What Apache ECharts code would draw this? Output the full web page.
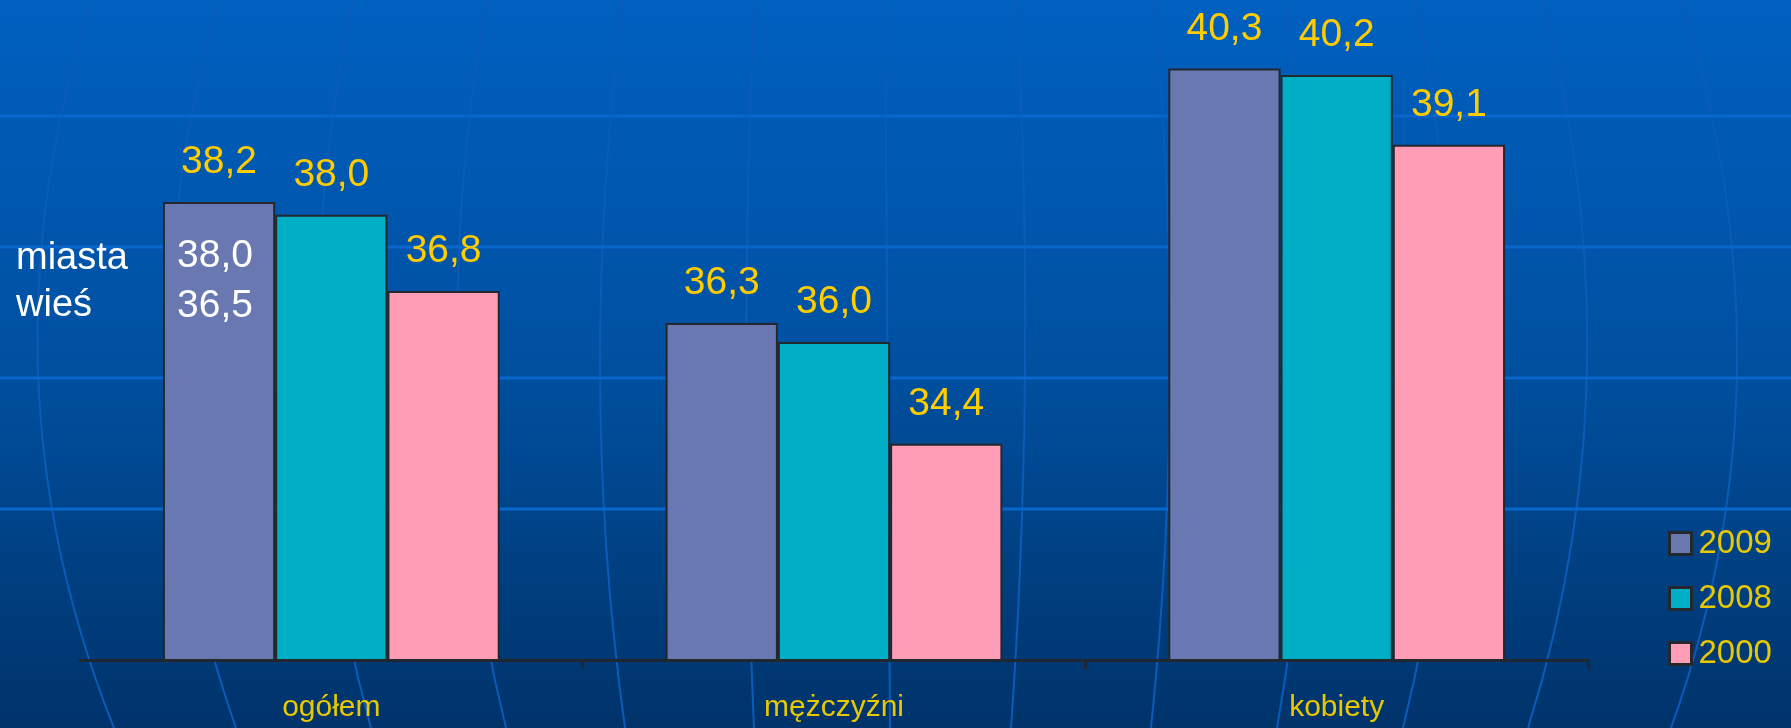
<!DOCTYPE html>
<html>
<head>
<meta charset="utf-8">
<script src="https://cdn.jsdelivr.net/npm/echarts@6/dist/echarts.min.js"></script>
<style>
html,body{margin:0;padding:0;background:#004c9c;}
#chart{width:1791px;height:728px;}
</style>
</head>
<body>
<div id="chart"></div>
<script>
// ---- data ----
var categories = ['ogółem', 'mężczyźni', 'kobiety'];
var seriesNames = ['2009', '2008', '2000'];
var values2009 = [38.2, 36.3, 40.3];
var values2008 = [38.0, 36.0, 40.2];
var values2000 = [36.8, 34.4, 39.1];
var noteLabels = ['miasta', 'wieś'];
var noteValues = [38.0, 36.5];

// ---- decoration (background globe lines) ----
var meridianTop = [91, 219, 353, 487, 623, 754, 885, 1017, 1154, 1285, 1416, 1543, 1682];
var meridianMid = [38, 170, 318, 458, 600, 746, 888, 1025, 1170, 1310, 1450, 1587, 1737];
var meridianBottom = [114, 236, 371, 506, 625, 754, 890, 1011, 1151, 1277, 1403, 1528, 1671];
var parallelsY = [116, 247, 378, 509];

function fmt(v) { return v.toFixed(1).replace('.', ','); }

var colors = ['#6a78b1', '#00afc6', '#ff9cb6'];
var allValues = [values2009, values2008, values2000];
var FONT = '"Liberation Sans", Arial, sans-serif';

var graphics = [];
var H = 728, midY = 370;
for (var i = 0; i < meridianTop.length; i++) {
  var t = meridianTop[i], m = meridianMid[i], b = meridianBottom[i];
  graphics.push({
    type: 'bezierCurve', z: 0, silent: true,
    shape: { x1: t, y1: 0, x2: b, y2: H, cpx1: 2 * m - 0.5 * (t + b), cpy1: 2 * midY - 0.5 * H },
    style: { stroke: '#0a5cb8', lineWidth: 2, fill: null }
  });
}
for (var j = 0; j < parallelsY.length; j++) {
  graphics.push({
    type: 'line', z: 0, silent: true,
    shape: { x1: 0, y1: parallelsY[j], x2: 1791, y2: parallelsY[j] },
    style: { stroke: '#0866cc', lineWidth: 3 }
  });
}
for (var k = 0; k < noteLabels.length; k++) {
  graphics.push({
    type: 'text', z: 10, left: 16, top: 240 + k * 47,
    style: { text: noteLabels[k], fill: '#ffffff', font: '38px ' + FONT }
  });
  graphics.push({
    type: 'text', z: 10, left: 177, top: 237 + k * 50,
    style: { text: fmt(noteValues[k]), fill: '#ffffff', font: '39px ' + FONT }
  });
}

var series = seriesNames.map(function (name, idx) {
  return {
    name: name,
    type: 'bar',
    data: allValues[idx],
    barGap: '0%',
    barCategoryGap: '33%',
    z: 2,
    itemStyle: { color: colors[idx], borderColor: '#23282f', borderWidth: 2 },
    label: {
      show: true, position: 'top', distance: 20,
      color: '#ffcc00', fontSize: 39, fontFamily: FONT,
      formatter: function (p) { return fmt(p.value); }
    }
  };
});

var chart = echarts.init(document.getElementById('chart'));
chart.setOption({
  backgroundColor: {
    type: 'linear', x: 0, y: 0, x2: 0, y2: 1,
    colorStops: [
      { offset: 0, color: '#0060c0' },
      { offset: 0.5, color: '#0050a0' },
      { offset: 1, color: '#00336a' }
    ]
  },
  animation: false,
  grid: { left: 80, right: 203, top: 24, bottom: 68 },
  legend: {
    orient: 'vertical', left: 1663, top: 522,
    itemWidth: 22, itemHeight: 22, itemGap: 22,
    icon: 'rect',
    itemStyle: { borderColor: '#23282f', borderWidth: 3 },
    textStyle: { color: '#e8c800', fontSize: 33, fontFamily: FONT, padding: [0, 0, 0, 2] },
    data: seriesNames
  },
  xAxis: {
    type: 'category', data: categories,
    axisLine: { lineStyle: { color: '#1f2733', width: 3 } },
    axisTick: { show: true, length: 9, lineStyle: { color: '#1f2733', width: 3 },
      interval: function (i) { return i > 0; } },
    axisLabel: { color: '#e8c800', fontSize: 30, margin: 33, fontFamily: FONT }
  },
  yAxis: { type: 'value', min: 31, max: 41, show: false, splitLine: { show: false } },
  graphic: { elements: graphics },
  series: series
});
</script>
</body>
</html>
